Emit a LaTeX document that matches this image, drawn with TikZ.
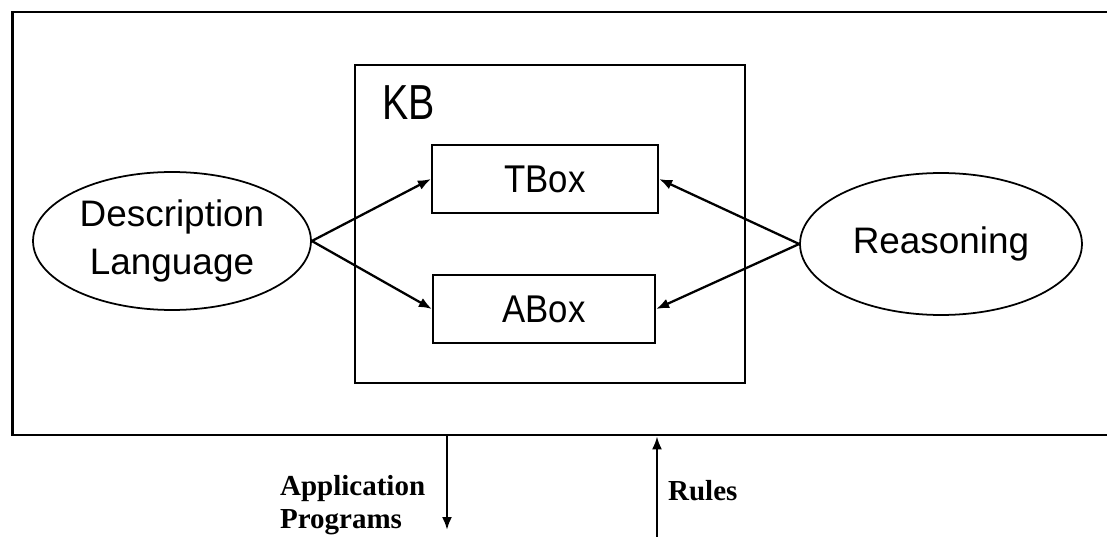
\documentclass[tikz,border=0pt]{standalone}
\usepackage{fontspec}
\setmainfont{Liberation Sans}
\newfontfamily\narrowfont[FakeStretch=0.9]{Liberation Sans}
\newfontfamily\kbfont[FakeStretch=0.8]{Liberation Sans}
\newfontfamily\notefont{Liberation Serif}
\usetikzlibrary{arrows.meta,shapes.geometric,positioning}

\tikzset{
  part/.style={draw,line width=1.3pt,minimum height=1.36cm,
    font=\narrowfont\fontsize{22}{24}\selectfont},
  topic/.style={draw,ellipse,line width=1pt,inner sep=0pt,align=center,
    font=\fontsize{21}{27}\selectfont},
  note/.style={inner sep=0pt,align=left,
    font=\notefont\bfseries\fontsize{16.5}{19}\selectfont},
}

\begin{document}
\begin{tikzpicture}[x=0.02cm,y=-0.02cm,>={Latex[length=2.6mm,width=2mm]},
        line width=1.3pt]
  \useasboundingbox (0,0) rectangle (1107,537);
  \clip (0,0) rectangle (1107,537);

  % outer frame, runs off the right edge
  \node[draw,line width=1.6pt,minimum width=22.36cm,minimum height=8.46cm] (system) at (571,223.5) {};

  % knowledge base with its two parts
  \node[draw,line width=1.3pt,minimum width=7.8cm,minimum height=6.36cm] (kb) at (550,224) {};
  \node[anchor=north west,inner sep=0pt,font=\kbfont\fontsize{28}{30}\selectfont] (kbname) at (381,85) {KB};
  \node[part,minimum width=4.52cm] (tbox) at (545,179) {TBox};
  \node[part,minimum width=4.44cm] (abox) at (544,309) {ABox};

  \node[topic,minimum width=5.56cm,minimum height=2.76cm] (lang) at (172,241) {Description\\Language};
  \node[topic,minimum width=5.64cm,minimum height=2.84cm] (reason) at (941,244) {Reasoning};

  \path[->] (lang.east) edge (tbox.west)
            (lang.east) edge (abox.west)
            (reason.west) edge (tbox.east)
            (reason.west) edge (abox.east);

  % interfaces below the frame
  \coordinate (progs) at (447,530);
  \coordinate (rules) at (657,537);
  \draw[->] (system.south -| progs) -- (progs);
  \draw[->] (rules) -- (system.south -| rules);

  \node[note,anchor=west] (progname) at (279,505) {Application\\Programs};
  \node[note,anchor=west] (rulename) at (667,491) {Rules};
\end{tikzpicture}
\end{document}
